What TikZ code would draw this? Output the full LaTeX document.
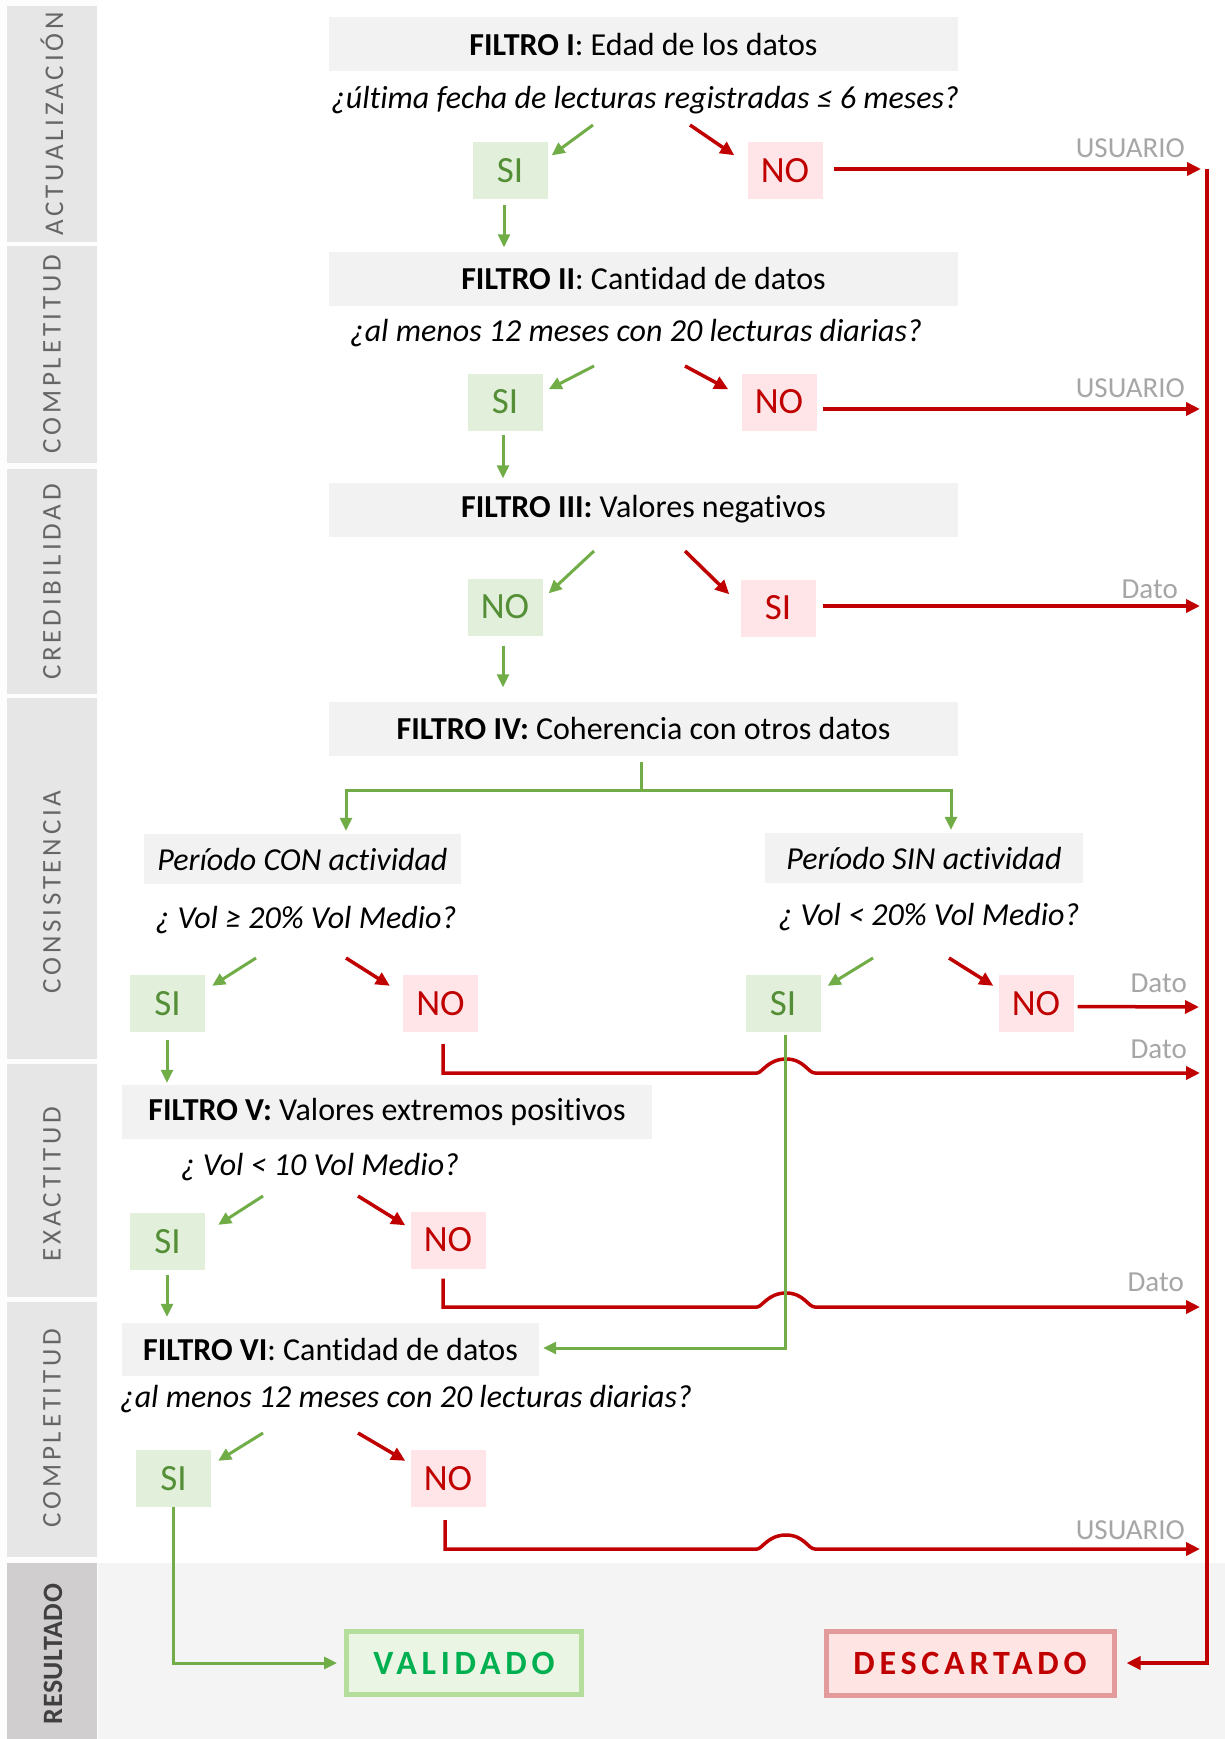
\documentclass[tikz,border=0pt]{standalone}
\usepackage{fontspec}
\setmainfont[Ligatures=NoCommon]{Carlito}
\newfontfamily\bandfont[LetterSpace=14,Ligatures=NoCommon]{Carlito}
\newfontfamily\resfont[LetterSpace=14,Ligatures=NoCommon]{Carlito}
\newfontfamily\rbandfont[LetterSpace=2,Ligatures=NoCommon]{Carlito}
\usetikzlibrary{arrows.meta}
\definecolor{gline}{HTML}{70AD47}
\definecolor{rline}{HTML}{C00000}
\definecolor{sifill}{HTML}{E2EFDA}
\definecolor{sitext}{HTML}{548F38}
\definecolor{nofill}{HTML}{FFE5E7}
\definecolor{boxgray}{HTML}{F2F2F2}
\definecolor{bandgray}{HTML}{E7E6E6}
\definecolor{bandtext}{HTML}{666666}
\definecolor{resband}{HTML}{D0CECE}
\definecolor{lblgray}{HTML}{A6A6A6}
\definecolor{bggray}{HTML}{F4F4F4}
\definecolor{valfill}{HTML}{EAF5E4}
\definecolor{valdraw}{HTML}{B5DD9B}
\definecolor{valtext}{HTML}{00B050}
\definecolor{desfill}{HTML}{FFE4E4}
\definecolor{desdraw}{HTML}{E39A9A}
\begin{document}
\begin{tikzpicture}[x=1pt,y=-1pt,
  filtro/.style={fill=boxgray, minimum height=54pt, inner sep=0pt, font=\fontsize{32}{38}\selectfont, text=black},
  quest/.style={inner sep=0pt, font=\fontsize{32}{38}\selectfont\itshape, text=black},
  sibox/.style={fill=sifill, text=sitext, minimum width=75pt, minimum height=57pt, inner sep=0pt, font=\fontsize{37}{42}\selectfont},
  nobox/.style={fill=nofill, text=rline, minimum width=75pt, minimum height=57pt, inner sep=0pt, font=\fontsize{37}{42}\selectfont},
  garr/.style={draw=gline, line width=3pt, -{Triangle[length=13pt,width=12pt]}},
  gln/.style={draw=gline, line width=3pt},
  rarr/.style={draw=rline, line width=3.5pt, -{Triangle[length=14pt,width=13pt]}},
  lbl/.style={text=lblgray, inner sep=0pt, anchor=base east, font=\fontsize{29}{34}\selectfont},
  bandtxt/.style={rotate=90, text=bandtext, inner sep=0pt, font=\bandfont\fontsize{27}{30}\selectfont},
  result/.style={line width=5pt, inner sep=0pt, font=\resfont\bfseries\fontsize{34}{40}\selectfont}
]
\useasboundingbox (0,0) rectangle (1225,1739);
\fill[white!60!boxgray!30] (0,0) rectangle (1225,1739);
\fill[white] (98,0) rectangle (1225,1563);
\fill[bggray] (98,1563) rectangle (1225,1739);
% bands
\fill[bandgray] (7,6) rectangle (97,242);
\fill[bandgray] (7,246) rectangle (97,463);
\fill[bandgray] (7,469) rectangle (97,694);
\fill[bandgray] (7,698) rectangle (97,1059);
\fill[bandgray] (7,1064) rectangle (97,1297);
\fill[bandgray] (7,1302) rectangle (97,1557);
\fill[resband] (7,1563) rectangle (97,1739);
\node[bandtxt] (b1) at (52,124) {ACTUALIZACIÓN};
\node[bandtxt] (b2) at (52,354) {COMPLETITUD};
\node[bandtxt] (b3) at (52,582) {CREDIBILIDAD};
\node[bandtxt] (b4) at (52,892) {CONSISTENCIA};
\node[bandtxt] (b5) at (52,1184) {EXACTITUD};
\node[bandtxt] (b6) at (52,1428) {COMPLETITUD};
\node[rotate=90, inner sep=0pt, text=black!75, font=\rbandfont\bfseries\fontsize{28}{30}\selectfont] (b7) at (53,1654) {RESULTADO};

% ---------- FILTRO I
\node[filtro, minimum width=629pt] (f1) at (643.5,44.5) {\textbf{FILTRO I}: Edad de los datos};
\node[quest] (q1) at (645,100) {¿última fecha de lecturas registradas ≤ 6 meses?};
\node[sibox] (si1) at (510,171) {SI};
\node[nobox] (no1) at (785,171) {NO};
\coordinate (g1) at (593,125);
\coordinate (r1) at (690,125);
\draw[garr] (g1) -- ([xshift=4pt,yshift=-13pt]si1.north east);
\draw[rarr] (r1) -- ([xshift=-13pt,yshift=-13pt]no1.north west);
\coordinate (e1) at (1201,169);
\draw[rarr] ([xshift=11pt,yshift=2pt]no1.east) -- (e1);
\node[lbl] (l1) at (1185,158) {USUARIO};

% ---------- FILTRO II
\node[filtro, minimum width=629pt] (f2) at (643.5,278.5) {\textbf{FILTRO II}: Cantidad de datos};
\draw[garr] ([xshift=-6pt,yshift=-5pt]si1.south) -- ([xshift=-6pt,yshift=4pt]si1.south |- f2.north);
\node[quest] (q2) at (636,333) {¿al menos 12 meses con 20 lecturas diarias?};
\node[sibox] (si2) at (505,402) {SI};
\node[nobox] (no2) at (779,402) {NO};
\coordinate (g2) at (594,366);
\coordinate (r2) at (685,366);
\draw[garr] (g2) -- ([xshift=6pt,yshift=-16pt]si2.north east);
\draw[rarr] (r2) -- ([xshift=-13pt,yshift=-16pt]no2.north west);
\coordinate (e2) at (1200,409);
\draw[rarr] ([xshift=6pt,yshift=-7pt]no2.east) -- (e2);
\node[lbl] (l2) at (1185,397) {USUARIO};

% ---------- FILTRO III
\node[filtro, minimum width=629pt] (f3) at (643.5,509.5) {\textbf{FILTRO III:} Valores negativos};
\draw[garr] ([xshift=-2pt,yshift=-4pt]si2.south) -- ([xshift=-2pt,yshift=4pt]si2.south |- f3.north);
\node[sibox] (no3) at (505,607) {NO};
\node[nobox] (si3) at (778,608) {SI};
\coordinate (g3) at (594,551);
\coordinate (r3) at (685,551);
\draw[garr] (g3) -- ([xshift=6pt,yshift=-15pt]no3.north east);
\draw[rarr] (r3) -- ([xshift=-11pt,yshift=-15pt]si3.north west);
\coordinate (e3) at (1200,606);
\draw[rarr] ([xshift=7pt,yshift=2pt]si3.east) -- (e3);
\node[lbl] (l3) at (1178,598) {Dato};

% ---------- FILTRO IV
\node[filtro, minimum width=629pt] (f4) at (643.5,728.5) {\textbf{FILTRO IV:} Coherencia con otros datos};
\draw[garr] ([xshift=-2pt,yshift=-10pt]no3.south) -- ([xshift=-2pt,yshift=14pt]no3.south |- f4.north);
\node[filtro, minimum width=317pt, minimum height=50pt, font=\fontsize{32}{38}\selectfont\itshape] (pcon) at (302.5,859) {Período CON actividad};
\node[filtro, minimum width=318pt, minimum height=50pt, font=\fontsize{32}{38}\selectfont\itshape] (psin) at (924,858) {Período SIN actividad};
\coordinate (j4) at (641,790);
\draw[gln] ([xshift=-2.5pt,yshift=-6pt]f4.south) -- (j4);
\draw[garr] (j4) -| ([xshift=43.5pt,yshift=3pt]pcon.north);
\draw[garr] (j4) -| ([xshift=27pt,yshift=3pt]psin.north);
\node[quest] (q4a) at (306,920) {¿ Vol ≥ 20\% Vol Medio?};
\node[quest] (q4b) at (929,917) {¿ Vol < 20\% Vol Medio?};
\node[sibox] (si4a) at (167.5,1003.5) {SI};
\node[nobox] (no4a) at (440.5,1003.5) {NO};
\node[sibox] (si4b) at (783,1003.5) {SI};
\node[nobox] (no4b) at (1036,1003.5) {NO};
\coordinate (g4a) at (256,958);
\coordinate (r4a) at (346,958);
\coordinate (g4b) at (873,958);
\coordinate (r4b) at (949,958);
\draw[garr] (g4a) -- ([xshift=7pt,yshift=-11pt]si4a.north east);
\draw[rarr] (r4a) -- ([xshift=-13pt,yshift=-11pt]no4a.north west);
\draw[garr] (g4b) -- ([xshift=7pt,yshift=-11pt]si4b.north east);
\draw[rarr] (r4b) -- ([xshift=-5pt,yshift=-11pt]no4b.north west);
\coordinate (e4b) at (1199,1007);
\draw[rarr] ([xshift=4pt,yshift=-3pt]no4b.east) -- (e4b);
\node[lbl] (l4b) at (1187,992) {Dato};
\coordinate (e4a) at (1200,1073);
\draw[rarr] ([xshift=2.5pt,yshift=-12pt]no4a.south) -- (443,1073) -- (757,1073)
  .. controls (762,1073) and (768,1059) .. (786,1059)
  .. controls (804,1059) and (808,1073) .. (815,1073) -- (e4a);
\node[lbl] (l4a) at (1187,1058) {Dato};

% ---------- FILTRO V
\node[filtro, minimum width=530pt] (f5) at (387,1112) {\textbf{FILTRO V:} Valores extremos positivos};
\draw[garr] ([xshift=-0.5pt,yshift=-8pt]si4a.south) -- ([xshift=-0.5pt,yshift=2pt]si4a.south |- f5.north);
\node[quest] (q5) at (320,1167) {¿ Vol < 10 Vol Medio?};
\node[sibox] (si5) at (167.5,1241.5) {SI};
\node[nobox] (no5) at (448,1240) {NO};
\coordinate (g5) at (263,1196);
\coordinate (r5) at (358,1196);
\draw[garr] (g5) -- ([xshift=13pt,yshift=-12pt]si5.north east);
\draw[rarr] (r5) -- ([xshift=-5pt,yshift=-14pt]no5.north west);
\coordinate (e5) at (1200,1307);
\draw[rarr] ([xshift=-5pt,yshift=-10pt]no5.south) -- (443,1307) -- (757,1307)
  .. controls (762,1307) and (768,1293) .. (786,1293)
  .. controls (804,1293) and (808,1307) .. (815,1307) -- (e5);
\node[lbl] (l5) at (1184,1291) {Dato};

% ---------- FILTRO VI
\node[filtro, minimum width=417pt, minimum height=53pt] (f6) at (330.5,1349.5) {\textbf{FILTRO VI}: Cantidad de datos};
\draw[garr] ([xshift=-0.5pt,yshift=-5pt]si5.south) -- ([xshift=-0.5pt,yshift=6pt]si5.south |- f6.north);
\draw[garr] ([xshift=2pt,yshift=-3pt]si4b.south) |- ([xshift=4pt,yshift=1.5pt]f6.east);
\node[quest] (q6) at (406,1399) {¿al menos 12 meses con 20 lecturas diarias?};
\node[sibox] (si6) at (173.5,1478.5) {SI};
\node[nobox] (no6) at (448,1478.5) {NO};
\coordinate (g6) at (263,1433);
\coordinate (r6) at (358,1433);
\draw[garr] (g6) -- ([xshift=7pt,yshift=-11pt]si6.north east);
\draw[rarr] (r6) -- ([xshift=-5pt,yshift=-11pt]no6.north west);
\coordinate (e6) at (1200,1549);
\draw[rarr] ([xshift=-3pt,yshift=-13pt]no6.south) -- (445,1549) -- (757,1549)
  .. controls (762,1549) and (768,1535) .. (786,1535)
  .. controls (804,1535) and (808,1549) .. (815,1549) -- (e6);
\node[lbl] (l6) at (1185,1539) {USUARIO};

% ---------- RESULTADO
\node[result, draw=valdraw, fill=valfill, text=valtext, minimum width=235pt, minimum height=63pt] (val) at (464,1663) {VALIDADO};
\node[result, draw=desdraw, fill=desfill, text=rline, minimum width=288pt, minimum height=64pt] (des) at (970,1663) {DESCARTADO};
\draw[garr] ([xshift=-0.5pt]si6.south) |- ([xshift=-7pt]val.west);
\coordinate (vtop) at (1207,169);
\draw[rarr] (vtop) |- ([xshift=10pt]des.east);
\end{tikzpicture}
\end{document}
